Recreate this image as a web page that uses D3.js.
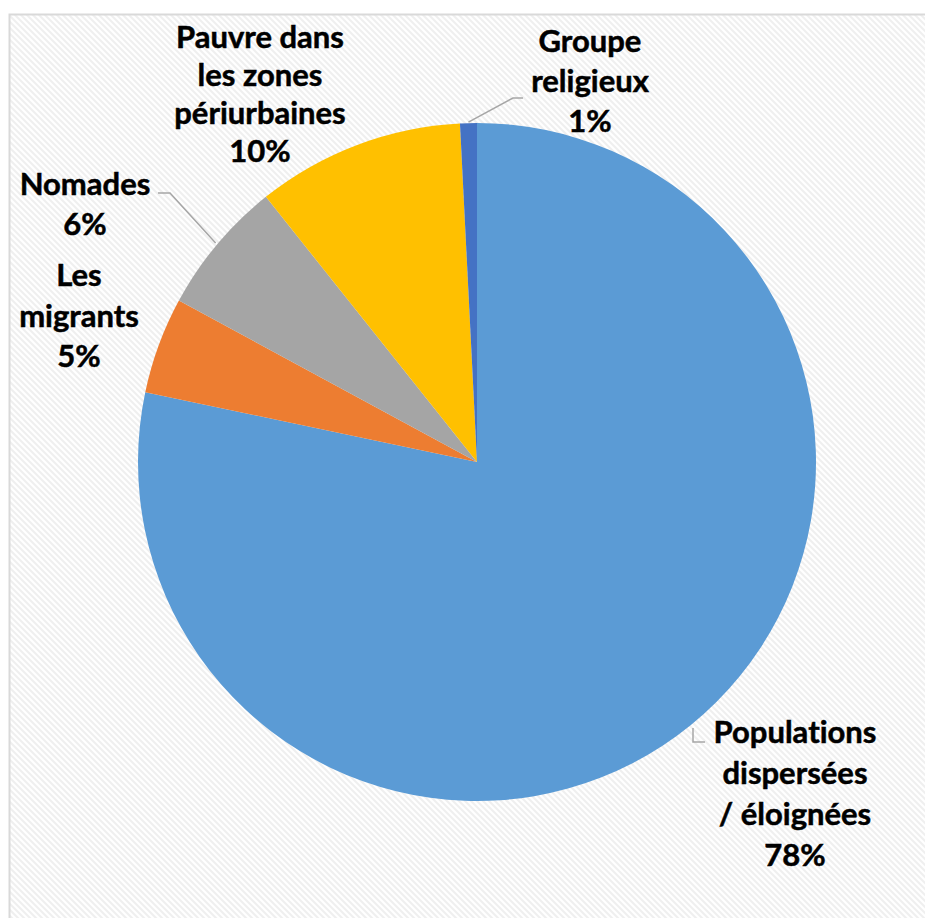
<!DOCTYPE html>
<html><head><meta charset="utf-8">
<script src="https://cdn.jsdelivr.net/npm/d3@7"></script>
<style>html,body{margin:0;padding:0;background:#fff;}svg{display:block;}</style>
</head><body>
<svg id="chart" width="925" height="918"></svg>
<script>
const categories = ["Populations dispersées / éloignées", "Les migrants", "Nomades", "Pauvre dans les zones périurbaines", "Groupe religieux"];
const values = [78.3, 4.6, 6.4, 9.9, 0.8];
const colors = ["#5B9BD5", "#ED7D31", "#A5A5A5", "#FFC000", "#4472C4"];
const labelLines = [
  ["Populations", "dispersées", "/ éloignées"],
  ["Les", "migrants"],
  ["Nomades"],
  ["Pauvre dans", "les zones", "périurbaines"],
  ["Groupe", "religieux"]
];

const svg = d3.select("#chart");
const W = 925, H = 918;
const cx = 477, cy = 462, R = 339;

const defs = svg.append("defs");
const pat = defs.append("pattern").attr("id", "stripes").attr("patternUnits", "userSpaceOnUse")
  .attr("width", 6).attr("height", 6);
pat.append("rect").attr("width", 6).attr("height", 6).attr("fill", "#ffffff");
pat.append("path").attr("d", "M-1,-1 L7,7 M-4,2 L2,8 M4,-2 L10,4")
  .attr("stroke", "#efefef").attr("stroke-width", 2);

svg.append("rect").attr("x", 9.5).attr("y", 14.5).attr("width", W).attr("height", H)
  .attr("fill", "url(#stripes)").attr("stroke", "#d9d9d9").attr("stroke-width", 2);

const pie = d3.pie().sort(null).value(d => d)(values);
const arc = d3.arc().innerRadius(0).outerRadius(R);
const g = svg.append("g").attr("transform", `translate(${cx},${cy})`);
g.selectAll("path.slice").data(pie).join("path").attr("class", "slice")
  .attr("d", arc).attr("fill", (d, i) => colors[i]);

const total = d3.sum(values);
const pct = v => Math.round(v / total * 100) + "%";

// label placement (center x, first baseline y, line height)
const labelPos = [
  {x: 795, y: 743, lh: 41},
  {x: 79, y: 286, lh: 40.5},
  {x: 85, y: 195, lh: 40},
  {x: 260, y: 47.5, lh: 38},
  {x: 590, y: 52, lh: 40}
];
const labels = svg.append("g").attr("font-family", "Lato, 'Open Sans', sans-serif")
  .attr("font-weight", "bold").attr("font-size", 31).attr("fill", "#000")
  .attr("stroke", "#000").attr("stroke-width", 0.5)
  .attr("text-anchor", "middle").style("font-variant-ligatures", "none");
labelLines.forEach((lines, i) => {
  const p = labelPos[i];
  const t = labels.append("text").attr("x", p.x).attr("y", p.y);
  lines.concat([pct(values[i])]).forEach((ln, k) => {
    t.append("tspan").attr("x", p.x).attr("y", p.y + k * p.lh).text(ln);
  });
});

// leader lines
const leaderCol = "#a6a6a6";
const angAt = i => (pie[i].startAngle + pie[i].endAngle) / 2;
const edge = (a, r) => [cx + r * Math.sin(a), cy - r * Math.cos(a)];
const lines = svg.append("g").attr("fill", "none").attr("stroke", leaderCol).attr("stroke-width", 1.5);
// Groupe religieux
{
  const p0 = edge(angAt(4), R + 1);
  lines.append("path").attr("d", d3.line()([p0, [513, 98], [523, 98]]));
}
// Nomades
{
  const p0 = edge(angAt(2), R + 2);
  lines.append("path").attr("d", d3.line()([p0, [170, 193], [158, 193]]));
}
// Populations
{
  lines.append("path").attr("d", d3.line()([[693, 728], [693, 742], [705, 742]]));
}
</script>
</body></html>
